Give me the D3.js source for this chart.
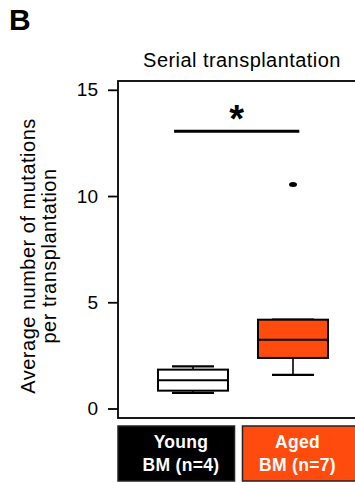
<!DOCTYPE html>
<html>
<head>
<meta charset="utf-8">
<script src="https://cdn.jsdelivr.net/npm/d3@7"></script>
<style>
  body { margin: 0; background: #fff; }
  svg { display: block; font-family: Arial, "Liberation Sans", sans-serif; }
</style>
</head>
<body>
<div id="chart"></div>
<script>
// groups and box summaries
var groups = ["Young", "Aged"];
var groupLabels = [["Young", "BM (n=4)"], ["Aged", "BM (n=7)"]];
var boxFill = ["#ffffff", "#ff4b0d"];
var labelFill = ["#000000", "#ff4b0d"];
var whiskerLow = [0.74, 1.58];
var q1 = [0.84, 2.38];
var median = [1.33, 3.24];
var q3 = [1.83, 4.18];
var whiskerHigh = [1.98, 4.18];
var outliers = [[], [10.54]];
var yTicks = [0, 5, 10, 15];

var width = 355, height = 482;
var plot = { left: 118, right: 362, top: 81, bottom: 418 };

var svg = d3.select("#chart").append("svg")
  .attr("width", width)
  .attr("height", height);

var y = d3.scaleLinear().domain([0, 15]).range([408.5, 89.8]);
var x = d3.scaleBand().domain(groups).range([158, 328]).paddingInner(0.3).paddingOuter(0);

// panel letter
svg.append("text")
  .attr("x", 9).attr("y", 30)
  .style("font-size", "30px").style("font-weight", "bold")
  .text("B");

// title
svg.append("text")
  .attr("x", 242).attr("y", 67)
  .attr("text-anchor", "middle")
  .style("font-size", "20px").style("letter-spacing", "0.45px")
  .text("Serial transplantation");

// frame
svg.append("rect")
  .attr("x", plot.left).attr("y", plot.top)
  .attr("width", plot.right - plot.left).attr("height", plot.bottom - plot.top)
  .attr("fill", "none").attr("stroke", "#000").attr("stroke-width", 1.8);

// y axis
var yAxis = svg.append("g")
  .attr("transform", "translate(" + plot.left + ",0)")
  .call(d3.axisLeft(y).tickValues(yTicks).tickSize(10).tickPadding(10));
yAxis.select(".domain").remove();
yAxis.selectAll(".tick line").attr("stroke-width", 1.8);
yAxis.selectAll(".tick text").style("font-size", "19px").style("font-family", "Arial, 'Liberation Sans', sans-serif");

// y label
var yl = svg.append("text")
  .attr("transform", "translate(35,256) rotate(-90)")
  .attr("text-anchor", "middle")
  .style("font-size", "20px").style("letter-spacing", "0.5px");
yl.append("tspan").attr("x", 0).attr("dy", 0).text("Average number of mutations");
yl.append("tspan").attr("x", 0).attr("dy", 21).text("per transplantation");

// boxes
var bw = x.bandwidth();
var g = svg.selectAll(".box").data(groups).enter().append("g").attr("class", "box");

g.append("line")
  .attr("x1", d => x(d) + bw / 2).attr("x2", d => x(d) + bw / 2)
  .attr("y1", (d, i) => y(whiskerLow[i])).attr("y2", (d, i) => y(whiskerHigh[i]))
  .attr("stroke", "#000").attr("stroke-width", 1.6);

[whiskerLow, whiskerHigh].forEach(arr => {
  g.append("line")
    .attr("x1", d => x(d) + bw * 0.2).attr("x2", d => x(d) + bw * 0.8)
    .attr("y1", (d, i) => y(arr[i])).attr("y2", (d, i) => y(arr[i]))
    .attr("stroke", "#000").attr("stroke-width", 2.2);
});

g.append("rect")
  .attr("x", d => x(d)).attr("width", bw)
  .attr("y", (d, i) => y(q3[i]))
  .attr("height", (d, i) => y(q1[i]) - y(q3[i]))
  .attr("fill", (d, i) => boxFill[i])
  .attr("stroke", "#000").attr("stroke-width", 2);

g.append("line")
  .attr("x1", d => x(d)).attr("x2", d => x(d) + bw)
  .attr("y1", (d, i) => y(median[i])).attr("y2", (d, i) => y(median[i]))
  .attr("stroke", "#000").attr("stroke-width", 2);

g.each(function (d, i) {
  d3.select(this).selectAll("ellipse").data(outliers[i]).enter().append("ellipse")
    .attr("cx", x(d) + bw / 2).attr("cy", v => y(v))
    .attr("rx", 4).attr("ry", 2.5).attr("fill", "#000");
});

// significance bar
var sigY = y(13.05);
var sigX1 = x("Young") + bw * 0.23, sigX2 = x("Aged") + bw * 0.59;
svg.append("line")
  .attr("x1", sigX1).attr("x2", sigX2)
  .attr("y1", sigY).attr("y2", sigY)
  .attr("stroke", "#000").attr("stroke-width", 3);
svg.append("text")
  .attr("x", (sigX1 + sigX2) / 2)
  .attr("y", sigY + 1)
  .attr("text-anchor", "middle")
  .style("font-size", "38px").style("font-weight", "bold")
  .text("*");

// group label boxes under the axis
var labX = d3.scaleBand().domain(groups).range([118, 359]).paddingInner(0.064);
var lab = svg.selectAll(".lab").data(groups).enter().append("g").attr("class", "lab");
lab.append("rect")
  .attr("x", d => labX(d)).attr("y", 426)
  .attr("width", labX.bandwidth()).attr("height", 55)
  .attr("fill", (d, i) => labelFill[i])
  .attr("stroke", "#222").attr("stroke-width", 1.5);
var textOffset = [63, 55];
lab.each(function (d, i) {
  var t = d3.select(this).append("text")
    .attr("text-anchor", "middle")
    .attr("fill", "#fff")
    .style("font-size", "17.5px").style("font-weight", "bold")
    .style("letter-spacing", "0.3px");
  groupLabels[i].forEach((s, k) => {
    t.append("tspan")
      .attr("x", labX(d) + textOffset[i])
      .attr("y", 448 + k * 23)
      .text(s);
  });
});
</script>
</body>
</html>
